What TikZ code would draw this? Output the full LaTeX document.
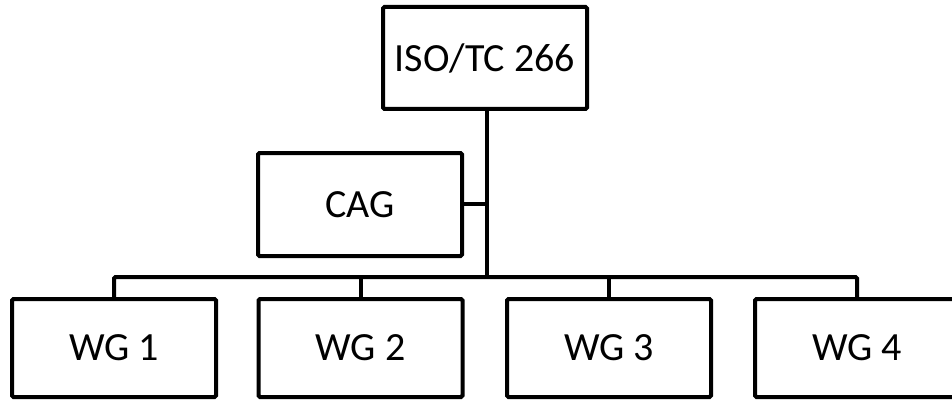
\documentclass[tikz,border=0pt]{standalone}
\usepackage{fontspec}
\setmainfont{Carlito}
\begin{document}
\begin{tikzpicture}[x=1pt,y=-1pt,
  box/.style={draw=black,line width=4pt,fill=white,inner sep=0pt,rounded corners=1.5pt,
    font=\fontsize{40}{44}\selectfont,minimum width=204pt},
  conn/.style={line width=4pt,line cap=rect}]
\useasboundingbox (0,0) rectangle (952,401);
\clip (0,0) rectangle (952,401);
\node[box,minimum height=102pt] (top) at (485,58) {ISO/TC 266};
\node[box,minimum height=103pt] (cag) at (360,204.5) {CAG};
\node[box,minimum height=98pt] (wg1) at (114,348) {WG 1};
\node[box,minimum height=98pt] (wg2) at (360.5,348) {WG 2};
\node[box,minimum height=98pt] (wg3) at (609,348) {WG 3};
\node[box,minimum height=98pt] (wg4) at (857,348) {WG 4};
\coordinate (bus) at (487,277);
\coordinate (cj) at (487,204);
\draw[conn] (top.south -| bus) -- (bus);
\draw[conn] (cag.east |- cj) -- (cj);
\draw[conn,rounded corners=1.5pt] (wg1.north) |- (wg4.north |- bus) -- (wg4.north);
\draw[conn] (wg2.north) -- (wg2.north |- bus);
\draw[conn] (wg3.north) -- (wg3.north |- bus);
\end{tikzpicture}
\end{document}
